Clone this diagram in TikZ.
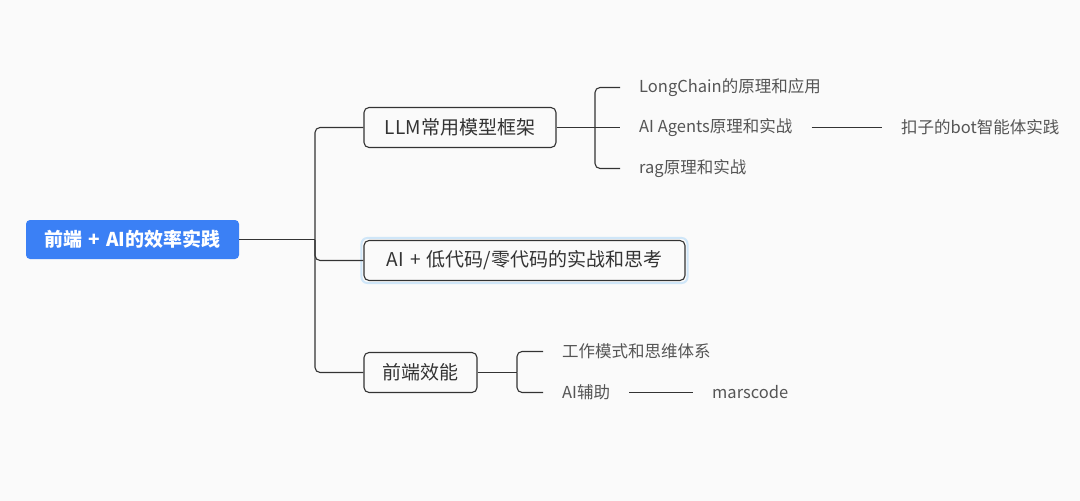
\documentclass[tikz,border=0pt]{standalone}
\usepackage{fontspec}
\setmainfont{Noto Sans CJK SC}
\definecolor{bg}{HTML}{FAFAFA}
\definecolor{rootblue}{HTML}{3B80F5}
\definecolor{linec}{HTML}{333333}
\definecolor{boxtext}{HTML}{333333}
\definecolor{leaftext}{HTML}{555555}
\definecolor{glowc}{HTML}{CFE6F8}
\newcommand{\gap}{\hspace{0.32em}}
\tikzset{
  rootbox/.style={fill=rootblue, text=white, rounded corners=4pt, minimum width=213pt, minimum height=39pt, inner sep=0pt, font=\fontsize{19}{19}\selectfont\bfseries},
  topicbox/.style={draw=linec, line width=1.1pt, fill=bg, text=boxtext, rounded corners=5pt, minimum height=40pt, inner sep=0pt, font=\fontsize{19}{19}\selectfont},
  leaf/.style={text=leaftext, inner xsep=19pt, inner ysep=2pt, anchor=west, font=\fontsize{16.5}{16.5}\selectfont},
  conn/.style={draw=linec, line width=1.1pt, rounded corners=5pt},
}
\begin{document}
\begin{tikzpicture}[x=1pt,y=-1pt]
\fill[bg] (0,0) rectangle (1080,501);
\useasboundingbox (0,0) rectangle (1080,501);

\node[rootbox] (root) at (132.5,239.5) {前端\gap+\gap AI的效率实践};

\node[topicbox, minimum width=192pt] (llm) at (460,127.5) {LLM常用模型框架};
\node[topicbox, minimum width=321pt] (ai) at (524.5,260.5) {AI\gap+\gap 低代码/零代码的实战和思考};
\node[topicbox, minimum width=113pt] (fe) at (420.5,372.5) {前端效能};
\draw[glowc, line width=2pt, rounded corners=6pt] ([xshift=-2pt,yshift=2pt]ai.north west) rectangle ([xshift=2pt,yshift=-2pt]ai.south east);

\coordinate (t) at (315,239.5);
\draw[conn] (root.east) -- (t);
\draw[conn] (t) |- (llm.west);
\draw[conn] (t) |- (ai.west);
\draw[conn] (t) |- (fe.west);

\node[leaf] (l1) at (620,87.5) {LongChain的原理和应用};
\node[leaf] (l2) at (620,127.5) {AI Agents原理和实战};
\node[leaf] (l3) at (620,168.5) {rag原理和实战};
\node[leaf] (l4) at (882,127.5) {扣子的bot智能体实践};

\coordinate (s1) at (595,127.5);
\draw[conn] (llm.east) -- (s1);
\draw[conn] (s1) |- (l1.west);
\draw[conn] (s1) -- (l2.west);
\draw[conn] (s1) |- (l3.west);
\draw[conn] (l2.east) -- (l4.west);

\node[leaf] (f1) at (543,351.5) {工作模式和思维体系};
\node[leaf] (f2) at (543,392.5) {AI辅助};
\node[leaf] (f3) at (693,392.5) {marscode};

\coordinate (s2) at (517,372.5);
\draw[conn] (fe.east) -- (s2);
\draw[conn] (s2) |- (f1.west);
\draw[conn] (s2) |- (f2.west);
\draw[conn] (f2.east) -- (f3.west);
\end{tikzpicture}
\end{document}
